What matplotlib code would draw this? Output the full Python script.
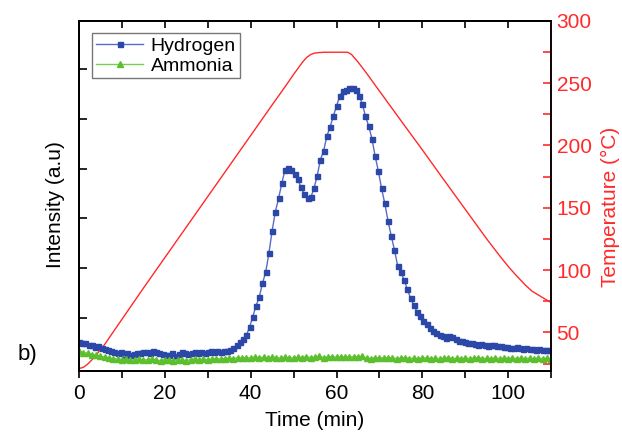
import matplotlib

matplotlib.use("Agg")
import matplotlib.pyplot as plt
import numpy as np
from matplotlib.ticker import MultipleLocator

plt.rcParams.update(
    {
        "font.family": ["Liberation Sans", "DejaVu Sans"],
        "font.size": 12,
        "axes.linewidth": 1.3,
    }
)

# Hydrogen signal, sampled every 0.75 min (a.u.)
H2_STEP = 0.75
H2 = [
    0.53, 0.51, 0.50, 0.47, 0.46, 0.43, 0.44, 0.40, 0.38, 0.37,
    0.34, 0.33, 0.31, 0.33, 0.18, 0.30, 0.27, 0.29, 0.31, 0.30,
    0.32, 0.33, 0.31, 0.35, 0.33, 0.30, 0.28, 0.26, 0.27, 0.30,
    0.25, 0.29, 0.33, 0.30, 0.28, 0.31, 0.33, 0.30, 0.32, 0.31,
    0.33, 0.34, 0.32, 0.34, 0.33, 0.34, 0.35, 0.37, 0.40, 0.46,
    0.52, 0.58, 0.66, 0.82, 1.03, 1.25, 1.42, 1.70, 1.92, 2.30,
    2.75, 3.13, 3.40, 3.70, 3.98, 4.02, 3.97, 3.88, 3.78, 3.62,
    3.48, 3.41, 3.42, 3.60, 3.85, 4.18, 4.35, 4.65, 4.83, 5.05,
    5.25, 5.45, 5.56, 5.58, 5.62, 5.62, 5.57, 5.46, 5.30, 5.05,
    4.85, 4.60, 4.25, 3.95, 3.60, 3.30, 2.95, 2.65, 2.37, 2.05,
    1.92, 1.77, 1.58, 1.40, 1.26, 1.13, 1.04, 0.95, 0.88, 0.80,
    0.75, 0.70, 0.66, 0.64, 0.60, 0.64, 0.62, 0.58, 0.55, 0.54,
    0.53, 0.51, 0.50, 0.49, 0.47, 0.48, 0.46, 0.45, 0.47, 0.46,
    0.44, 0.45, 0.42, 0.43, 0.41, 0.40, 0.42, 0.40, 0.39, 0.40,
    0.38, 0.39, 0.37, 0.38, 0.36, 0.37, 0.36,
]

# Ammonia signal, sampled every 1 min (a.u.)
NH3_STEP = 1.0
NH3 = [
    0.34, 0.31, 0.30, 0.27, 0.26, 0.24, 0.22, 0.21, 0.19, 0.18,
    0.17, 0.18, 0.16, 0.17, 0.18, 0.16, 0.17, 0.18, 0.16, 0.15,
    0.17, 0.16, 0.15, 0.17, 0.16, 0.15, 0.17, 0.18, 0.17, 0.18,
    0.17, 0.18, 0.19, 0.18, 0.19, 0.20, 0.19, 0.21, 0.20, 0.21,
    0.20, 0.22, 0.21, 0.22, 0.20, 0.22, 0.21, 0.20, 0.22, 0.21,
    0.20, 0.22, 0.21, 0.23, 0.21, 0.22, 0.24, 0.21, 0.22, 0.23,
    0.22, 0.22, 0.23, 0.22, 0.23, 0.23, 0.24, 0.20, 0.19, 0.21,
    0.20, 0.21, 0.20, 0.21, 0.19, 0.20, 0.21, 0.19, 0.20, 0.19,
    0.20, 0.21, 0.19, 0.20, 0.19, 0.20, 0.21, 0.19, 0.20, 0.19,
    0.20, 0.19, 0.20, 0.21, 0.19, 0.20, 0.19, 0.20, 0.19, 0.20,
    0.19, 0.20, 0.19, 0.20, 0.19, 0.20, 0.19, 0.20, 0.19, 0.20,
    0.19,
]

# Temperature programme (min, degC)
TEMP_T = [0, 1, 2, 3, 4, 5, 6, 7, 8, 10, 15, 20, 25, 30, 35, 40, 45, 48, 50,
          52, 53, 54, 55, 57, 62.6, 63.5, 65, 67, 69.2, 75, 80, 85, 92.1, 95,
          97.9, 100, 101.8, 104, 105.6, 108, 110]
TEMP = [21, 22, 24.5, 28, 32, 36, 40.5, 45.5, 50.5, 60.5, 85.5, 110, 134.5,
        159, 183.5, 208, 232.5, 247, 257, 266.5, 270.5, 273, 274.2, 274.8,
        274.8, 273, 267, 258, 247.5, 220, 196.5, 172.5, 138.8, 125, 112, 103,
        96, 88, 83, 78, 74]

BLUE = "#2b47a8"
BLUE_LINE = "#5a6cc4"
GREEN = "#5cbf2e"
GREEN_LINE = "#7acc5a"
RED = "#ff2a2a"

fig = plt.figure(figsize=(6.22, 4.34), dpi=100)
ax = fig.add_axes([0.127, 0.145, 0.759, 0.807])
ax2 = ax.twinx()

t_h2 = np.arange(len(H2)) * H2_STEP
t_nh3 = np.arange(len(NH3)) * NH3_STEP

ax2.plot(TEMP_T, TEMP, color=RED, linewidth=1.0)
ax.plot(t_h2, H2, color=BLUE_LINE, linewidth=1.0, marker="s", markersize=3.6,
        markerfacecolor=BLUE, markeredgecolor=BLUE, label="Hydrogen")
ax.plot(t_nh3, NH3, color=GREEN_LINE, linewidth=1.0, marker="^", markersize=3.8,
        markerfacecolor=GREEN, markeredgecolor=GREEN, label="Ammonia")
ax.set_zorder(ax2.get_zorder() + 1)
ax.patch.set_visible(False)

ax.set_xlim(0, 110)
ax.set_ylim(-0.06, 6.96)
ax2.set_ylim(19, 300)

ax.xaxis.set_major_locator(MultipleLocator(20))
ax.xaxis.set_minor_locator(MultipleLocator(10))
ax.set_yticks(range(1, 7))
ax.set_yticklabels([])
ax.tick_params(axis="x", which="both", direction="out", length=5, width=1.2,
               labelsize=15, pad=4)
ax.tick_params(axis="y", which="both", direction="in", length=6, width=1.2)

# top axis ticks, inward, every 10 min
top = ax.secondary_xaxis("top")
top.set_xticks(np.arange(10, 110, 10))
top.set_xticklabels([])
top.tick_params(direction="in", length=5, width=1.2)
top.spines["top"].set_visible(False)

ax2.yaxis.set_major_locator(MultipleLocator(50))
ax2.yaxis.set_minor_locator(MultipleLocator(25))
ax2.tick_params(axis="y", which="both", direction="in", length=6, width=1.2,
                colors=RED, labelsize=15, pad=4)
ax2.spines["right"].set_color(RED)
ax2.spines["right"].set_linewidth(1.3)
ax2.set_yticks([50, 100, 150, 200, 250, 300])

ax.set_xlabel("Time (min)", fontsize=15, labelpad=6)
ax.set_ylabel("Intensity (a.u)", fontsize=15)
ax.yaxis.set_label_coords(-0.03, 0.476)
ax2.set_ylabel("Temperature (\u00b0C)", fontsize=15, color=RED)
ax2.yaxis.set_label_coords(1.105, 0.469)

fig.text(0.028, 0.17, "b)", fontsize=16)

leg = ax.legend(loc="upper left", bbox_to_anchor=(0.02, 0.975), fontsize=14,
                frameon=True, fancybox=False, borderpad=0.2, labelspacing=0.1,
                handlelength=2.4, handletextpad=0.4, borderaxespad=0.2)
leg.get_frame().set_edgecolor("#555555")
leg.get_frame().set_linewidth(1.0)

fig.savefig("out.png", dpi=100)
